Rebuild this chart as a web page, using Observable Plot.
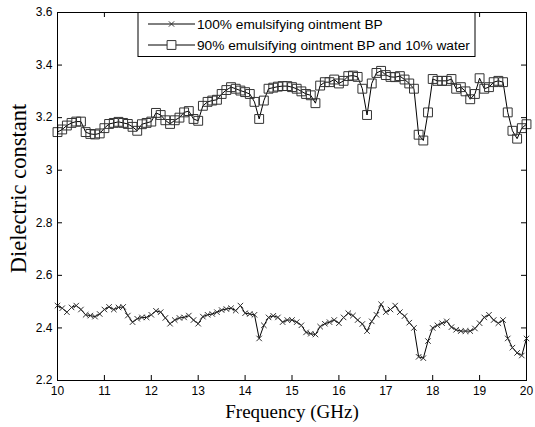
<!DOCTYPE html>
<html>
<head>
<meta charset="utf-8">
<script src="https://cdn.jsdelivr.net/npm/d3@7"></script>
<script src="https://cdn.jsdelivr.net/npm/@observablehq/plot@0.6"></script>
<style>
  html, body { margin: 0; padding: 0; background: white; }
  #chart { position: relative; width: 535px; height: 427px; }
</style>
</head>
<body>
<div id="chart"></div>
<script>
const freq = [10.0,10.1,10.2,10.3,10.4,10.5,10.6,10.7,10.8,10.9,
  11.0,11.1,11.2,11.3,11.4,11.5,11.6,11.7,11.8,11.9,
  12.0,12.1,12.2,12.3,12.4,12.5,12.6,12.7,12.8,12.9,
  13.0,13.1,13.2,13.3,13.4,13.5,13.6,13.7,13.8,13.9,
  14.0,14.1,14.2,14.3,14.4,14.5,14.6,14.7,14.8,14.9,
  15.0,15.1,15.2,15.3,15.4,15.5,15.6,15.7,15.8,15.9,
  16.0,16.1,16.2,16.3,16.4,16.5,16.6,16.7,16.8,16.9,
  17.0,17.1,17.2,17.3,17.4,17.5,17.6,17.7,17.8,17.9,
  18.0,18.1,18.2,18.3,18.4,18.5,18.6,18.7,18.8,18.9,
  19.0,19.1,19.2,19.3,19.4,19.5,19.6,19.7,19.8,19.9,
  20.0];

const ointment = [2.485,2.475,2.46,2.478,2.485,2.47,2.45,2.447,2.443,2.453,
  2.47,2.48,2.47,2.478,2.48,2.447,2.422,2.435,2.44,2.44,
  2.45,2.465,2.46,2.438,2.416,2.43,2.438,2.44,2.447,2.43,
  2.416,2.443,2.45,2.453,2.46,2.468,2.472,2.475,2.466,2.485,
  2.456,2.453,2.45,2.36,2.41,2.44,2.446,2.44,2.422,2.43,
  2.43,2.422,2.41,2.383,2.378,2.375,2.405,2.416,2.422,2.43,
  2.418,2.44,2.456,2.447,2.43,2.415,2.388,2.425,2.45,2.49,
  2.46,2.47,2.485,2.46,2.445,2.42,2.40,2.29,2.285,2.35,
  2.40,2.41,2.418,2.425,2.403,2.393,2.388,2.388,2.388,2.398,
  2.418,2.44,2.45,2.43,2.418,2.43,2.36,2.325,2.305,2.295,
  2.36];

const ointmentWater = [3.145,3.155,3.17,3.18,3.185,3.185,3.145,3.138,3.136,3.14,
  3.16,3.176,3.18,3.184,3.18,3.176,3.165,3.15,3.175,3.18,
  3.185,3.218,3.21,3.19,3.176,3.19,3.2,3.22,3.225,3.195,
  3.188,3.245,3.26,3.265,3.268,3.29,3.305,3.316,3.31,3.303,
  3.297,3.29,3.26,3.195,3.265,3.31,3.314,3.318,3.32,3.32,
  3.316,3.31,3.3,3.29,3.285,3.255,3.322,3.335,3.335,3.345,
  3.33,3.34,3.358,3.36,3.355,3.31,3.21,3.33,3.37,3.378,
  3.362,3.355,3.354,3.358,3.345,3.33,3.31,3.135,3.113,3.22,
  3.347,3.34,3.34,3.34,3.347,3.31,3.316,3.3,3.27,3.29,
  3.35,3.31,3.316,3.335,3.34,3.335,3.22,3.15,3.12,3.16,
  3.175];

const seriesNames = ["100% emulsifying ointment BP", "90% emulsifying ointment BP and 10% water"];
const xTicks = [10,11,12,13,14,15,16,17,18,19,20];
const yTicks = [2.2,2.4,2.6,2.8,3.0,3.2,3.4,3.6];
const xLabel = "Frequency (GHz)";
const yLabel = "Dielectric constant";

const lower = freq.map((f, i) => ({f, v: ointment[i], s: seriesNames[0]}));
const upper = freq.map((f, i) => ({f, v: ointmentWater[i], s: seriesNames[1]}));

const W = 535, H = 427, mL = 57, mR = 9, mT = 12, mB = 47;
const iW = W - mL - mR, iH = H - mT - mB;
const sans = "'Liberation Sans', Arial, sans-serif";
const serif = "'Liberation Serif', 'Times New Roman', serif";

const svg = Plot.plot({
  width: W, height: H,
  marginLeft: mL, marginRight: mR, marginTop: mT, marginBottom: mB,
  style: {background: "white", fontFamily: sans, fontSize: "12px", color: "black"},
  x: {domain: [10, 20]},
  y: {domain: [2.2, 3.6]},
  marks: [
    Plot.ruleX(xTicks, {x: d => d, insetTop: iH - 5, stroke: "black"}),
    Plot.ruleX(xTicks, {x: d => d, insetBottom: iH - 5, stroke: "black"}),
    Plot.ruleY(yTicks, {y: d => d, insetRight: iW - 5, stroke: "black"}),
    Plot.ruleY(yTicks, {y: d => d, insetLeft: iW - 5, stroke: "black"}),
    Plot.axisX(xTicks, {tickSize: 0, tickPadding: 6, label: null, fontSize: 12, fill: "black"}),
    Plot.axisY(yTicks, {tickSize: 0, tickPadding: 5, label: null, fontSize: 12, fill: "black",
      tickFormat: d => String(+d.toFixed(1))}),
    Plot.line(lower, {x: "f", y: "v", stroke: "black", strokeWidth: 1}),
    Plot.line(upper, {x: "f", y: "v", stroke: "black", strokeWidth: 1}),
    Plot.dot(lower, {x: "f", y: "v", symbol: "times", r: 2.6, stroke: "#333", strokeWidth: 1}),
    Plot.dot(upper, {x: "f", y: "v", symbol: "square", r: 5, fill: "none", stroke: "#333", strokeWidth: 1}),
    Plot.frame({stroke: "black"}),
    Plot.text([xLabel], {frameAnchor: "bottom", lineAnchor: "middle", textAnchor: "middle", dy: 31,
      fontFamily: serif, fontSize: 19, fill: "black"}),
    Plot.text([yLabel], {frameAnchor: "left", lineAnchor: "middle", textAnchor: "middle", dx: -39, dy: -8, rotate: -90,
      fontFamily: serif, fontSize: 22.5, fill: "black"})
  ]
});

// legend box (MATLAB style) drawn into the same SVG
const g = d3.select(svg).append("g");
const lx = 138, ly = 12.5, lw = 337, lh = 44;
g.append("rect").attr("x", lx).attr("y", ly).attr("width", lw).attr("height", lh)
  .attr("fill", "white").attr("stroke", "black").attr("stroke-width", 1);
const rows = [
  {name: seriesNames[0], sym: d3.symbolTimes, size: 20},
  {name: seriesNames[1], sym: d3.symbolSquare, size: 78}
];
rows.forEach((r, i) => {
  const yy = 24 + i * 21;
  g.append("line").attr("x1", 148).attr("x2", 195).attr("y1", yy).attr("y2", yy)
    .attr("stroke", "black").attr("stroke-width", 1);
  g.append("path").attr("d", d3.symbol(r.sym, r.size)())
    .attr("transform", `translate(171.5,${yy})`)
    .attr("fill", "white").attr("stroke", "#333").attr("stroke-width", 1);
  g.append("text").attr("x", 197).attr("y", yy).attr("dy", "0.35em")
    .attr("text-anchor", "start")
    .attr("font-family", sans).attr("font-size", 13.7).attr("fill", "black")
    .text(r.name);
});

document.getElementById("chart").appendChild(svg);
</script>
</body>
</html>
